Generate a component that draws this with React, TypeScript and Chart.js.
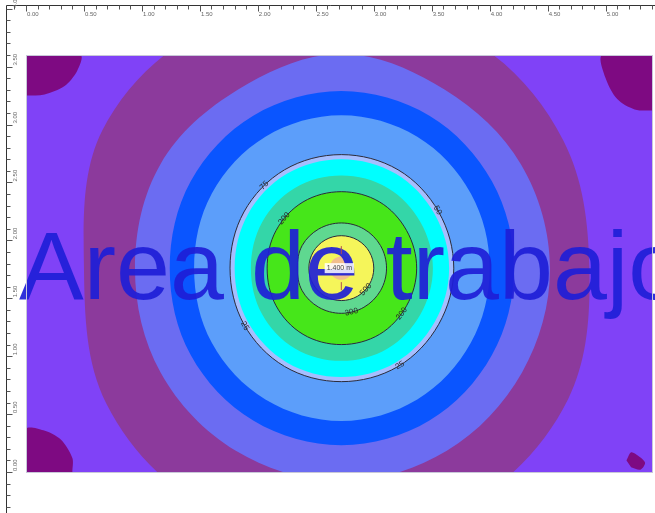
import React, { useEffect, useRef } from 'react';
import { Chart, registerables } from 'chart.js';
Chart.register(...registerables);

// ---- data (metres / lux) ----
const ROOM_W = 5.4;
const ROOM_H = 3.6;
const CENTER_X = 2.72;
const CENTER_Y = 1.76;
const ANGLES = [0, 30, 60, 90, 120, 150, 180, 210, 240, 270, 300, 330];

// band outer radii (m) per direction
const R_MAUVE = [2.14, 2.21, 2.26, 2.16, 2.37, 2.38, 2.22, 2.34, 2.37, 2.24, 2.31, 2.26];
const R_SLATE = [1.8, 1.79, 1.78, 1.85, 1.78, 1.8, 1.78, 1.8, 1.82, 1.84, 1.82, 1.8];
const R_BLUE = [1.49, 1.5, 1.52, 1.53, 1.52, 1.5, 1.48, 1.5, 1.52, 1.53, 1.52, 1.5];
const R_LIGHTBLUE = [1.28, 1.29, 1.31, 1.32, 1.31, 1.29, 1.27, 1.29, 1.31, 1.32, 1.31, 1.29];
const R_PALE = [0.97, 0.97, 0.98, 0.98, 0.98, 0.97, 0.96, 0.97, 0.98, 0.98, 0.98, 0.97];
const R_CYAN = [0.93, 0.93, 0.94, 0.94, 0.94, 0.93, 0.92, 0.93, 0.94, 0.94, 0.94, 0.93];
const R_TEAL = [0.79, 0.79, 0.8, 0.8, 0.8, 0.79, 0.78, 0.79, 0.8, 0.8, 0.8, 0.79];
const R_GREEN = [0.65, 0.65, 0.66, 0.66, 0.66, 0.65, 0.64, 0.65, 0.66, 0.66, 0.66, 0.65];
const R_INNER = [0.39, 0.39, 0.39, 0.39, 0.39, 0.39, 0.38, 0.39, 0.39, 0.39, 0.39, 0.39];
const R_YELLOW = [0.28, 0.28, 0.28, 0.28, 0.28, 0.28, 0.28, 0.28, 0.28, 0.28, 0.28, 0.28];
const R_CORE = [0.1, 0.1, 0.1, 0.1, 0.1, 0.1, 0.1, 0.1, 0.1, 0.1, 0.1, 0.1];

// corner zones (m)
const CORNER_TL = [[0, 3.6], [0.47, 3.6], [0.44, 3.46], [0.33, 3.33], [0.16, 3.26], [0, 3.25]];
const CORNER_TR = [[5.4, 3.6], [4.97, 3.6], [5.0, 3.4], [5.1, 3.22], [5.25, 3.13], [5.4, 3.12]];
const CORNER_BL = [[0, 0], [0, 0.37], [0.15, 0.36], [0.3, 0.28], [0.4, 0.12], [0.4, 0]];
const CORNER_BR = [[5.18, 0.1], [5.22, 0.17], [5.28, 0.14], [5.34, 0.08], [5.3, 0.02], [5.22, 0.04]];

// isolines
const ISO_VALUES = ['25', '200', '300', '500'];
const ISO_RADII = [R_PALE, R_GREEN, R_INNER, R_YELLOW];
const ISO_LABELS = ['75', '50', '25', '25', '200', '200', '300', '500'];
const ISO_LABEL_LINE = ['25', '25', '25', '25', '200', '200', '300', '500'];
const ISO_LABEL_ANGLE = [133, 31, 211, 301, 139, 323, 283, 319];

const X_TICK_LABELS = ['0.00', '0.50', '1.00', '1.50', '2.00', '2.50', '3.00', '3.50', '4.00', '4.50', '5.00'];
const Y_TICK_LABELS = ['0.00', '0.50', '1.00', '1.50', '2.00', '2.50', '3.00', '3.50', '4.00'];
const TITLE = 'Area de trabajo';
const CENTER_LABEL = '1.400 m';

// ---- helpers ----
function ringPoints(r: number[]) {
  const pts = ANGLES.map((a, i) => ({
    x: CENTER_X + r[i] * Math.cos((a * Math.PI) / 180),
    y: CENTER_Y + r[i] * Math.sin((a * Math.PI) / 180),
  }));
  const n = pts.length;
  return [pts[n - 1], ...pts, pts[0], pts[1]];
}
function polyPoints(p: number[][]) {
  return p.map(([x, y]) => ({ x, y }));
}
function interpR(r: number[], angle: number) {
  const a = ((angle % 360) + 360) % 360;
  const i = Math.floor(a / 30);
  const f = (a - i * 30) / 30;
  return r[i % 12] * (1 - f) + r[(i + 1) % 12] * f;
}

const fillSet = (data: any[], color: string, tension: number) => ({
  data,
  showLine: true,
  fill: 'shape',
  backgroundColor: color,
  borderColor: color,
  borderWidth: 0,
  pointRadius: 0,
  tension,
});

const overlayPlugin = {
  id: 'overlay',
  afterDatasetsDraw(chart: any) {
    const { ctx } = chart;
    const xs = chart.scales.x;
    const ys = chart.scales.y;
    ctx.save();
    // big title text
    ctx.font = '97px "Liberation Sans", Arial, sans-serif';
    ctx.fillStyle = 'rgba(30,30,215,0.92)';
    ctx.textBaseline = 'alphabetic';
    ctx.textAlign = 'left';
    ctx.fillText(TITLE, xs.getPixelForValue(-0.06), ys.getPixelForValue(1.49));

    // iso labels
    ctx.font = '8px "Liberation Sans", Arial, sans-serif';
    ctx.fillStyle = '#2a2a2a';
    ctx.textAlign = 'center';
    ctx.textBaseline = 'middle';
    ISO_LABELS.forEach((t, i) => {
      const r = ISO_RADII[ISO_VALUES.indexOf(ISO_LABEL_LINE[i])];
      const a = ISO_LABEL_ANGLE[i];
      const rr = interpR(r, a);
      const px = xs.getPixelForValue(CENTER_X + rr * Math.cos((a * Math.PI) / 180));
      const py = ys.getPixelForValue(CENTER_Y + rr * Math.sin((a * Math.PI) / 180));
      let rot = -(a + 90);
      while (rot <= -90) rot += 180;
      while (rot > 90) rot -= 180;
      ctx.save();
      ctx.translate(px, py);
      ctx.rotate((rot * Math.PI) / 180);
      ctx.fillText(t, 0, 0);
      ctx.restore();
    });

    // luminaire marker + label
    const cx = xs.getPixelForValue(CENTER_X);
    const cy = ys.getPixelForValue(CENTER_Y);
    ctx.strokeStyle = '#b05050';
    ctx.lineWidth = 1;
    ctx.beginPath();
    ctx.moveTo(cx, cy - 22);
    ctx.lineTo(cx, cy - 14);
    ctx.moveTo(cx, cy + 14);
    ctx.lineTo(cx, cy + 22);
    ctx.stroke();
    ctx.font = '7px "Liberation Sans", Arial, sans-serif';
    const w = ctx.measureText(CENTER_LABEL).width + 4;
    ctx.fillStyle = 'rgba(255,255,255,0.85)';
    ctx.fillRect(cx - w / 2 - 2, cy - 5, w, 10);
    ctx.fillStyle = '#444';
    ctx.fillText(CENTER_LABEL, cx - 2, cy);

    // room border
    ctx.strokeStyle = '#c8c8d8';
    ctx.lineWidth = 1;
    ctx.strokeRect(xs.getPixelForValue(0) + 0.5, ys.getPixelForValue(ROOM_H) + 0.5,
      xs.getPixelForValue(ROOM_W) - xs.getPixelForValue(0), ys.getPixelForValue(0) - ys.getPixelForValue(ROOM_H));

    // rulers
    const W = chart.width;
    const H = chart.height;
    const topY = 5.5;
    const leftX = 6.5;
    ctx.strokeStyle = '#333';
    ctx.beginPath();
    ctx.moveTo(leftX, topY);
    ctx.lineTo(W, topY);
    ctx.moveTo(leftX, topY);
    ctx.lineTo(leftX, H);
    ctx.stroke();
    ctx.strokeStyle = '#555';
    ctx.beginPath();
    for (let k = -3; k <= 60; k++) {
      const px = Math.round(xs.getPixelForValue(k / 10)) + 0.5;
      if (px < leftX + 2 || px > W) continue;
      const major = k % 5 === 0;
      ctx.moveTo(px, topY);
      ctx.lineTo(px, topY + (major ? 6 : 4));
    }
    for (let k = -5; k <= 42; k++) {
      const py = Math.round(ys.getPixelForValue(k / 10)) + 0.5;
      if (py < topY + 2 || py > H) continue;
      const major = k % 5 === 0;
      ctx.moveTo(leftX, py);
      ctx.lineTo(leftX + (major ? 6 : 4), py);
    }
    ctx.stroke();
    ctx.fillStyle = '#666';
    ctx.font = '6px "Liberation Sans", Arial, sans-serif';
    ctx.textAlign = 'left';
    ctx.textBaseline = 'top';
    X_TICK_LABELS.forEach((t) => {
      const px = xs.getPixelForValue(parseFloat(t));
      ctx.fillText(t, px + 1, topY + 6);
    });
    Y_TICK_LABELS.forEach((t) => {
      const py = ys.getPixelForValue(parseFloat(t));
      ctx.save();
      ctx.translate(leftX + 6, py - 1);
      ctx.rotate(-Math.PI / 2);
      ctx.textBaseline = 'top';
      ctx.fillText(t, 0, 0);
      ctx.restore();
    });
    ctx.restore();
  },
};

export default function App() {
  const ref = useRef<HTMLCanvasElement>(null);
  useEffect(() => {
    document.body.style.margin = '0';
    const n = ANGLES.length;
    const isoSets = ISO_RADII.map((r) => ({
      data: ringPoints(r),
      showLine: true,
      fill: false,
      borderColor: '#2b2b3a',
      borderWidth: 1,
      pointRadius: 0,
      tension: 0.35,
      segment: {
        borderColor: (c: any) =>
          c.p0DataIndex === 0 || c.p0DataIndex === n + 1 ? 'rgba(0,0,0,0)' : '#2b2b3a',
      },
    }));
    const painter: any[] = [
      fillSet(polyPoints([[0, 0], [ROOM_W, 0], [ROOM_W, ROOM_H], [0, ROOM_H]]), '#8042F7', 0),
      fillSet(polyPoints(CORNER_TL), '#7E0A82', 0.3),
      fillSet(polyPoints(CORNER_TR), '#7E0A82', 0.3),
      fillSet(polyPoints(CORNER_BL), '#7E0A82', 0.3),
      fillSet(polyPoints(CORNER_BR), '#7E0A82', 0.3),
      fillSet(ringPoints(R_MAUVE), '#8C3A9C', 0.35),
      fillSet(ringPoints(R_SLATE), '#6B6CF2', 0.35),
      fillSet(ringPoints(R_BLUE), '#0A55FF', 0.35),
      fillSet(ringPoints(R_LIGHTBLUE), '#5C9EFA', 0.35),
      fillSet(ringPoints(R_PALE), '#A5BEFF', 0.35),
      fillSet(ringPoints(R_CYAN), '#00FFFF', 0.35),
      fillSet(ringPoints(R_TEAL), '#34D6A8', 0.35),
      fillSet(ringPoints(R_GREEN), '#46E61A', 0.35),
      fillSet(ringPoints(R_INNER), '#5FD890', 0.35),
      fillSet(ringPoints(R_YELLOW), '#F5F55A', 0.35),
      fillSet(ringPoints(R_CORE), '#F2BE8C', 0.35),
      ...isoSets,
    ];
    const N = painter.length;
    painter.forEach((d, i) => (d.order = N - i));
    const chart = new Chart(ref.current!, {
      type: 'scatter',
      data: { datasets: painter },
      options: {
        animation: false,
        responsive: false,
        maintainAspectRatio: false,
        layout: { padding: { left: 26, top: 55, right: 3, bottom: 41 } },
        scales: {
          x: { type: 'linear', min: 0, max: ROOM_W, display: false },
          y: { type: 'linear', min: 0, max: ROOM_H, display: false },
        },
        plugins: { legend: { display: false }, tooltip: { enabled: false } },
      },
      plugins: [overlayPlugin],
    } as any);
    return () => chart.destroy();
  }, []);
  return (
    <div style={{ position: 'absolute', left: 0, top: 0, width: 655, height: 513, background: '#fff' }}>
      <canvas ref={ref} width={655} height={513} />
    </div>
  );
}
